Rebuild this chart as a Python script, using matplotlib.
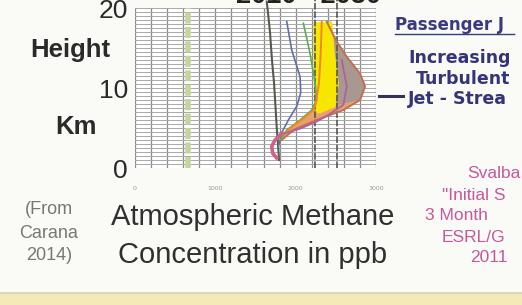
import numpy as np
import matplotlib.pyplot as plt

# methane profiles, ppb against height in km
dark_ppb = [1640, 1660, 1681, 1705, 1731, 1750, 1764, 1780, 1793]
dark_km = [20.8, 19, 16.9, 13.5, 10.6, 7.5, 5.1, 3, 1]

blue_ppb = [1889, 1951, 2055, 2063, 2013, 1909, 1826, 1785]
blue_km = [18.3, 14.75, 11.4, 9.4, 7.7, 6.0, 4.4, 2.7]

green_ppb = [2096, 2179, 2242, 2262, 2200, 2055, 1889, 1806]
green_km = [18.1, 14.3, 10.6, 8.5, 7.25, 6.0, 4.75, 3.5]

yellow_km = [18.3, 14.5, 10.6, 7.7, 6.9]
yellow_left = [2215, 2215, 2220, 2225, 2260]
yellow_right = [2449, 2480, 2532, 2490, 2300]

orange_ppb = [2325, 2310, 2290, 2250, 2221, 2100, 1975, 1850]
orange_km = [18.3, 14.0, 10.6, 8.0, 7.25, 6.2, 5.3, 4.3]

outer_ppb = [2387, 2500, 2636, 2802, 2864, 2802, 2594, 2262, 1972, 1826]
outer_km = [18.3, 16.0, 13.9, 11.8, 10.2, 8.5, 7.25, 6.0, 4.75, 3.5]

magenta_ppb = [2574, 2636, 2594, 2400, 2262, 2050, 1850]
magenta_km = [13.5, 10.2, 7.9, 6.6, 5.8, 4.9, 4.3]

pink_ppb = [1826, 1743, 1702, 1714, 1764]
pink_km = [4.3, 3.5, 2.7, 1.85, 1.25]

preind_ppb = 660
marker_ppb = [2242, 2520]

xticks = [0, 1000, 2000, 3000]
yticks = [0, 10, 20]

W, H = 522, 305
fig = plt.figure(figsize=(W / 100, H / 100), dpi=100)
fig.patch.set_facecolor('#fafaf7')


def fx(px):
    return px / W


def fy(py):
    return 1 - py / H


# yellow strip at the bottom
fig.patches.append(plt.Rectangle((0, 0), 1, fy(293), transform=fig.transFigure,
                                 facecolor='#f4eab8', edgecolor='none', zorder=0))
fig.lines.append(plt.Line2D([0, 1], [fy(293), fy(293)], transform=fig.transFigure,
                            color='#d9d2b4', lw=1.2))

ax = fig.add_axes([fx(135), fy(168), (376 - 135) / W, 160 / H])
ax.set_facecolor('white')
ax.set_xlim(0, 3000)
ax.set_ylim(0, 20)

# grid: vertical every 200 ppb (darker), horizontal every 0.5 km
for xv in np.arange(0, 3001, 200):
    ax.axvline(xv, color='#8a8a8a', lw=0.9, zorder=0)
for yv in np.arange(0, 20.01, 0.5):
    ax.axhline(yv, color='#a8a8a8', lw=0.7, zorder=0)
for s in ax.spines.values():
    s.set_visible(False)

ax.set_xticks(xticks)
ax.set_xticklabels([str(v) for v in xticks], fontsize=4.5, color='#999999')
ax.set_yticks(yticks)
ax.set_yticklabels([str(v) for v in yticks], fontsize=19, color='#2a2a2a',
                   family='Liberation Sans')
ax.tick_params(which='both', length=0)
ax.tick_params(axis='x', pad=13)
ax.tick_params(axis='y', pad=5)

# pre-industrial line
ax.axvline(preind_ppb, color='#c4d69c', lw=4, ls=(0, (2, 0.6)))

# shaded areas
ax.fill(outer_ppb + yellow_right[::-1], outer_km + yellow_km[::-1],
        color='#a89890', lw=0)
ax.fill(outer_ppb[5:] + orange_ppb[4:][::-1], outer_km[5:] + orange_km[4:][::-1],
        color='#e8a070', lw=0)
ax.fill_betweenx(yellow_km, yellow_left, yellow_right, color='#f7e600', lw=0)

for xv in marker_ppb:
    ax.plot([xv, xv], [0, 21], color='#555555', lw=1.2, ls=(0, (4, 1)), clip_on=False)

ax.plot(dark_ppb, dark_km, color='#555a50', lw=1.5, clip_on=False)
ax.plot(blue_ppb, blue_km, color='#6070a8', lw=1.2)
ax.plot(green_ppb, green_km, color='#58b050', lw=1.2)
ax.plot(orange_ppb, orange_km, color='#f08a20', lw=1.4)
ax.plot(outer_ppb, outer_km, color='#c07050', lw=1.4)
ax.plot(magenta_ppb, magenta_km, color='#b060a0', lw=1.3)
ax.plot(pink_ppb, pink_km, color='#d06088', lw=2.6)

# texts
font = 'Liberation Sans'
fig.text(fx(308), fy(3), '2010 - 2030', ha='center', va='baseline', fontsize=19.5,
         weight='bold', color='#222222', family=font)
fig.text(fx(70), fy(50), 'Height', ha='center', va='center', fontsize=18.5,
         weight='bold', color='#2a2a2a', family=font)
fig.text(fx(76), fy(127), 'Km', ha='center', va='center', fontsize=18.5,
         weight='bold', color='#2a2a2a', family=font)
for i, s in enumerate(['(From', 'Carana', '2014)']):
    fig.text(fx(49), fy(210 + 23 * i), s, ha='center', va='center', fontsize=13,
             color='#777777', family=font)
fig.text(fx(253), fy(217), 'Atmospheric Methane', ha='center', va='center',
         fontsize=21, color='#303030', family=font)
fig.text(fx(253), fy(255), 'Concentration in ppb', ha='center', va='center',
         fontsize=21, color='#303030', family=font)

bfont = 'DejaVu Sans'
fig.text(fx(395), fy(25), 'Passenger J', ha='left', va='center', fontsize=12,
         weight='bold', color='#3a3a80', family=bfont)
fig.lines.append(plt.Line2D([fx(395), fx(514)], [fy(34), fy(34)],
                            transform=fig.transFigure, color='#3a3a80', lw=1))
blue_lines = [('Increasing', 408, 58), ('Turbulent', 416, 79), ('Jet - Strea', 408, 99)]
for s, x, y in blue_lines:
    fig.text(fx(x), fy(y), s, ha='left', va='center', fontsize=12.5, weight='bold',
             color='#34347a', family=bfont)
fig.lines.append(plt.Line2D([fx(379), fx(403)], [fy(96), fy(96)],
                            transform=fig.transFigure, color='#333355', lw=2.2))

pink_lines = [('Svalba', 467, 174), ('"Initial S', 442, 195),
              ('3 Month', 425, 216), ('ESRL/G', 442, 237), ('2011', 470, 258)]
for s, x, y in pink_lines:
    fig.text(fx(x), fy(y), s, ha='left', va='center', fontsize=12.5,
             color='#c8589a', family=font)

fig.savefig('out.png', dpi=100, facecolor=fig.get_facecolor())
